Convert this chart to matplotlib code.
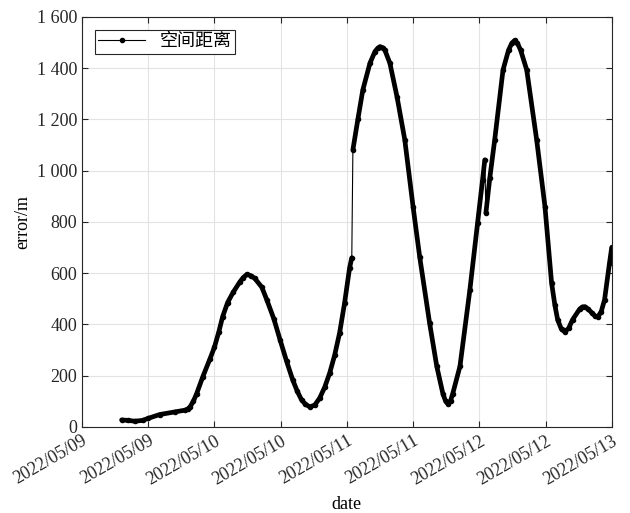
import numpy as np
import matplotlib
matplotlib.use("Agg")
import matplotlib.pyplot as plt
import matplotlib.dates as mdates
from matplotlib.lines import Line2D
from matplotlib.ticker import FuncFormatter, MultipleLocator
import datetime as dt

plt.rcParams['font.family'] = ['Liberation Serif', 'Noto Sans CJK SC']
plt.rcParams['font.size'] = 13

t0 = dt.datetime(2022, 5, 9)

# hours after 2022/05/09 00:00, error in m
hours_a = [7.2, 8.3, 9.6, 11.0, 12.0, 14.1, 16.8, 18.7, 19.2, 19.6, 20.2, 20.8,
           21.9, 23.2, 24.0, 24.8, 25.5, 26.4, 27.4, 28.6, 29.2, 29.9, 30.6,
           31.3, 32.6, 33.5, 34.8, 35.9, 37.1, 38.2, 39.0, 39.8, 40.5, 41.3,
           42.2, 43.1, 44.0, 44.9, 45.8, 46.7, 47.6, 48.5, 48.9]
err_a = [27, 25, 22, 25, 33, 48, 58, 65, 70, 78, 100, 130,
         195, 265, 310, 370, 430, 485, 525, 565, 582, 595, 590,
         580, 545, 496, 420, 340, 255, 183, 140, 105, 88, 78,
         85, 113, 155, 210, 280, 367, 484, 620, 660]

hours_b = [49.1, 50.0, 50.9, 52.2, 53.1, 53.6, 54.0, 54.5, 54.9, 55.8, 57.1,
           58.5, 60.0, 61.2, 63.0, 64.3, 65.4, 65.9, 66.3, 66.8, 67.2, 68.5,
           70.3, 71.7, 72.6, 73.0]
err_b = [1081, 1200, 1315, 1420, 1465, 1478, 1484, 1480, 1470, 1420, 1288,
         1121, 860, 664, 405, 236, 130, 100, 90, 102, 130, 236,
         535, 797, 965, 1042]

hours_c = [73.2, 73.9, 74.8, 76.3, 77.3, 77.9, 78.4, 78.9, 79.5, 80.6, 82.4,
           83.9, 85.1, 85.7, 86.2, 86.9, 87.5, 88.2, 88.9, 90.2, 90.7, 91.1,
           91.7, 92.4, 93.0, 93.5, 94.1, 94.7, 95.6, 96.0]
err_c = [835, 970, 1121, 1393, 1470, 1498, 1508, 1498, 1470, 1393, 1120,
         860, 562, 475, 418, 380, 371, 385, 418, 460, 468, 469,
         460, 445, 432, 430, 450, 496, 640, 700]


def to_dates(hours):
    return [t0 + dt.timedelta(hours=h) for h in hours]


fig = plt.figure(figsize=(6.3, 5.13), dpi=100)
ax = fig.add_axes([0.130, 0.168, 0.841, 0.799])

# thin connecting lines across the jumps
ax.plot(to_dates([hours_a[-1], hours_b[0]]), [err_a[-1], err_b[0]], color='k', lw=0.8)
ax.plot(to_dates([hours_b[-1], hours_c[0]]), [err_b[-1], err_c[0]], color='k', lw=0.8)
for hh, ee in [(hours_a, err_a), (hours_b, err_b), (hours_c, err_c)]:
    ax.plot(to_dates(hh), ee, color='k', lw=3.4, solid_capstyle='round',
            solid_joinstyle='round', marker='o', markersize=3)

ax.set_xlim(t0, t0 + dt.timedelta(hours=96))
ax.set_ylim(0, 1600)
ax.xaxis.set_major_locator(mdates.HourLocator(byhour=[0, 12]))
ax.xaxis.set_major_formatter(mdates.DateFormatter('%Y/%m/%d'))
ax.yaxis.set_major_locator(MultipleLocator(200))
ax.yaxis.set_major_formatter(FuncFormatter(
    lambda v, p: ('{:,.0f}'.format(v)).replace(',', ' ')))
for lab in ax.get_xticklabels():
    lab.set_rotation(30)
    lab.set_ha('right')
    lab.set_rotation_mode('anchor')

ax.tick_params(direction='in', top=True, right=True, length=4, width=0.8,
               colors='#262626', labelcolor='#262626')
ax.tick_params(axis='x', pad=4)
ax.grid(True, color='#e3e3e3', lw=0.8)
for s in ax.spines.values():
    s.set_color('#262626')
    s.set_linewidth(0.8)

ax.set_xlabel('date', va='center')
ax.xaxis.set_label_coords(0.5, -0.19)
ax.set_ylabel('error/m')

handle = Line2D([], [], color='k', lw=0.8, marker='o', markersize=3)
leg = ax.legend([handle], ['空间距离'], loc='upper left', fancybox=False,
                edgecolor='#262626', framealpha=1, handlelength=2.6,
                borderaxespad=0.7, borderpad=0.2)
leg.get_frame().set_linewidth(0.8)

fig.savefig('out.png', dpi=100)
